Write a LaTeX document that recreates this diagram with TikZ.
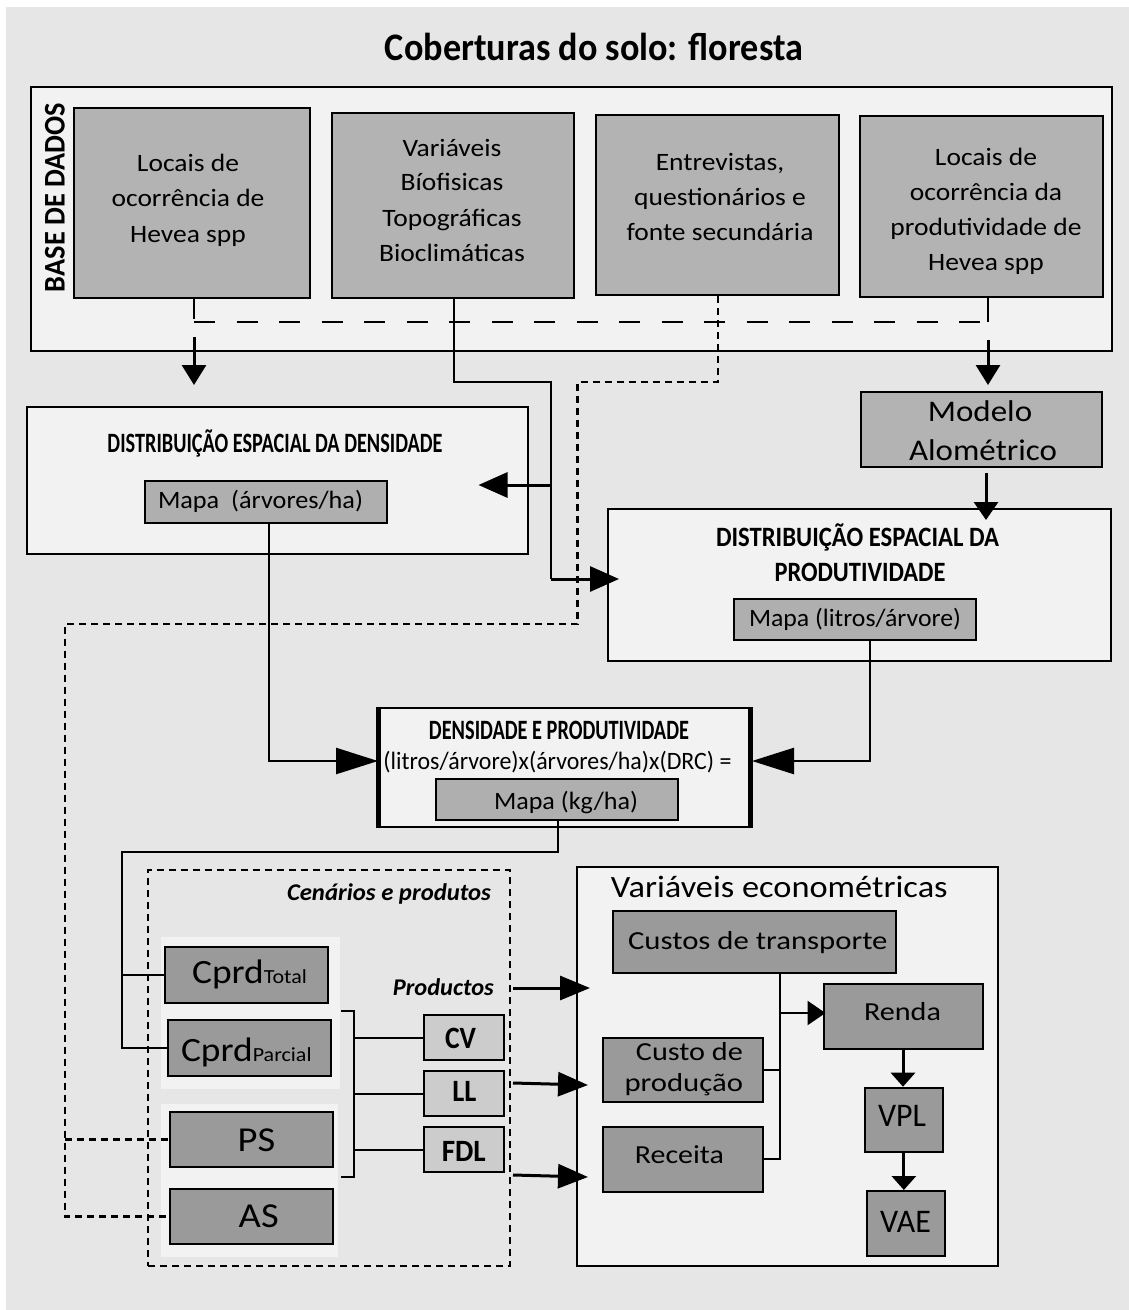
\documentclass[tikz,border=0pt]{standalone}
\usepackage{fontspec}
\setmainfont[FakeStretch=1.1]{Carlito}
\usepackage{graphicx}
\usetikzlibrary{arrows.meta}
\definecolor{bgc}{HTML}{E6E6E6}
\definecolor{lightc}{HTML}{F2F2F2}
\definecolor{greyA}{HTML}{B3B3B3}
\definecolor{greyM}{HTML}{AFAFAF}
\definecolor{greyB}{HTML}{9A9A9A}
\definecolor{greyC}{HTML}{CCCCCC}
\newcommand\fsz[2]{\fontsize{#1}{#2}\selectfont}
\newcommand\fitto[2]{\resizebox{#1}{\height}{#2}}
\tikzset{
  lightbox/.style={draw=black, fill=lightc, line width=2pt, inner sep=0pt},
  topbox/.style={draw=black, fill=greyA, line width=2pt, inner sep=0pt},
  mapbox/.style={draw=black, fill=greyM, line width=2pt, inner sep=0pt},
  darkbox/.style={draw=black, fill=greyB, line width=2pt, inner sep=0pt},
  prodbox/.style={draw=black, fill=greyC, line width=2pt, inner sep=0pt},
  grpbox/.style={fill=lightc, draw=none, inner sep=0pt},
  lbl/.style={inner sep=0pt, anchor=base},
  toptxt/.style={lbl, font=\fsz{25}{30}},
  conn/.style={line width=2pt},
  conn2/.style={line width=2.5pt},
  longdash/.style={line width=2pt, dash pattern=on 21pt off 21.5pt},
  dotl/.style={line width=2.3pt, dash pattern=on 7pt off 5pt},
  arrA/.style={line width=3pt, -{Triangle[length=20pt,width=24pt]}},
  arrB/.style={line width=3pt, -{Triangle[length=29pt,width=25pt]}},
  arrC/.style={line width=2.5pt, -{Triangle[length=42pt,width=26pt]}},
  arrE/.style={line width=3pt, -{Triangle[length=30pt,width=24pt]}},
  arrR/.style={line width=2.5pt, -{Triangle[length=18pt,width=24pt]}},
  arrV/.style={line width=3pt, -{Triangle[length=14pt,width=24pt]}},
}
\begin{document}
\begin{tikzpicture}[x=1pt,y=-1pt]
\useasboundingbox (0,0) rectangle (1129,1310);
\fill[white] (0,0) rectangle (1129,1310);
\fill[bgc] (6,7) rectangle (1129,1310);

% title
\node[lbl] (title) at (594,60) {\fitto{418pt}{\fsz{39}{40}\bfseries Coberturas do solo: floresta}};

% database
\node[lightbox, minimum width=1081pt, minimum height=264pt] (base) at (571.5,219) {};
\node[lbl, rotate=90] (baseT) at (64.7,197.5) {\fitto{189pt}{\fsz{30}{30}\bfseries BASE DE DADOS}};
\node[topbox, minimum width=235.5pt, minimum height=190pt] (b1) at (192,203) {};
\node[topbox, minimum width=242.5pt, minimum height=185pt] (b2) at (453,205.5) {};
\node[topbox, minimum width=243pt, minimum height=180pt] (b3) at (717.5,205) {};
\node[topbox, minimum width=243pt, minimum height=181pt] (b4) at (981.5,206.5) {};
\node[toptxt] (b1a) at (188,171.7) {Locais de};
\node[toptxt] (b1b) at (188,206.7) {ocorrência de};
\node[toptxt] (b1c) at (188,242.7) {Hevea spp};
\node[toptxt] (b2a) at (452,156) {Variáveis};
\node[toptxt] (b2b) at (452,190.7) {Bíofisicas};
\node[toptxt] (b2c) at (452,226) {Topográficas};
\node[toptxt] (b2d) at (452,261) {Bioclimáticas};
\node[toptxt] (b3a) at (720,170) {Entrevistas,};
\node[toptxt] (b3b) at (720,205) {questionários e};
\node[toptxt] (b3c) at (720,240) {fonte secundária};
\node[toptxt] (b4a) at (986,165) {Locais de};
\node[toptxt] (b4b) at (986,200) {ocorrência da};
\node[toptxt] (b4c) at (986,235) {produtividade de};
\node[toptxt] (b4d) at (986,270) {Hevea spp};

% density
\node[lightbox, minimum width=501pt, minimum height=147pt] (dens) at (277.5,480.5) {};
\node[lbl] (densT) at (275,452) {\fitto{335pt}{\fsz{28}{30}\bfseries DISTRIBUIÇÃO ESPACIAL DA DENSIDADE}};
\node[mapbox, minimum width=241.5pt, minimum height=42pt] (densM) at (266,502) {};
\node[lbl] (densMt) at (260.5,508) {\fitto{205pt}{\fsz{25}{30}Mapa\ \ (árvores/ha)}};

% modelo
\node[topbox, minimum width=241pt, minimum height=75pt] (modelo) at (981,429.5) {};
\node[lbl] (modeloA) at (980,421.7) {\fsz{30}{34}Modelo};
\node[lbl] (modeloB) at (983,460) {\fsz{30}{34}Alométrico};

% productivity
\node[lightbox, minimum width=503pt, minimum height=152pt] (prod) at (859.5,585) {};
\node[lbl] (prodT1) at (857.5,546) {\fitto{283pt}{\fsz{28}{30}\bfseries DISTRIBUIÇÃO ESPACIAL DA}};
\node[lbl] (prodT2) at (860,581) {\fitto{171pt}{\fsz{28}{30}\bfseries PRODUTIVIDADE}};
\node[mapbox, minimum width=242pt, minimum height=41pt] (prodM) at (855,619.5) {};
\node[lbl] (prodMt) at (855,626) {\fitto{212pt}{\fsz{25}{30}Mapa (litros/árvore)}};

% density and productivity
\node[lightbox, line width=2.5pt, minimum width=369.6pt, minimum height=119pt] (dp) at (564.8,767.5) {};
\draw[line width=5pt] (dp.north west) -- (dp.south west);
\draw[line width=4pt] (dp.north east) -- (dp.south east);
\node[lbl] (dpT) at (559,739) {\fitto{260pt}{\fsz{28}{30}\bfseries DENSIDADE E PRODUTIVIDADE}};
\node[lbl] (dpF) at (557.5,769) {\fitto{348pt}{\fsz{25}{30}(litros/árvore)x(árvores/ha)x(DRC) =}};
\node[mapbox, minimum width=241.5pt, minimum height=41pt] (dpM) at (556.75,799.5) {};
\node[lbl] (dpMt) at (566,809) {\fitto{144pt}{\fsz{25}{30}Mapa (kg/ha)}};

% scenarios
\node[grpbox, minimum width=179pt, minimum height=152pt] (g1) at (250.5,1013) {};
\node[grpbox, minimum width=177pt, minimum height=153pt] (g2) at (249.5,1180.5) {};
\node[draw, line width=2pt, dash pattern=on 7pt off 5pt, minimum width=362pt, minimum height=396pt, inner sep=0pt] (scen) at (329,1068) {};
\node[lbl] (scenT) at (389,900) {\fitto{204pt}{\fsz{24}{30}\bfseries\itshape Cenários e produtos}};
\node[darkbox, minimum width=162.6pt, minimum height=56pt] (cT) at (246.7,975) {};
\node[lbl] (cTt) at (249.5,983) {\fsz{34}{36}Cprd{\fsz{20}{24}Total}};
\node[darkbox, minimum width=163pt, minimum height=56pt] (cP) at (249.5,1048) {};
\node[lbl] (cPt) at (246.3,1061.7) {\fsz{34}{36}Cprd{\fsz{20}{24}Parcial}};
\node[darkbox, minimum width=163pt, minimum height=55pt] (ps) at (251.5,1139.5) {};
\node[lbl] (pst) at (256.5,1151.7) {\fsz{35}{36}PS};
\node[darkbox, minimum width=163pt, minimum height=55pt] (as) at (251.5,1216.5) {};
\node[lbl] (ast) at (258.7,1227.7) {\fsz{35}{36}AS};
\node[lbl] (prodsT) at (443.3,995) {\fitto{101pt}{\fsz{24}{30}\bfseries\itshape Productos}};
\node[prodbox, minimum width=80pt, minimum height=45pt] (cv) at (463.5,1037.5) {};
\node[lbl] (cvt) at (460.5,1048.3) {\fitto{31pt}{\fsz{31}{32}\bfseries CV}};
\node[prodbox, minimum width=80pt, minimum height=45pt] (ll) at (463.5,1093.5) {};
\node[lbl] (llt) at (464.3,1101.7) {\fitto{24pt}{\fsz{31}{32}\bfseries LL}};
\node[prodbox, minimum width=80pt, minimum height=45pt] (fdl) at (463.5,1149.5) {};
\node[lbl] (fdlt) at (463.8,1161.7) {\fitto{44pt}{\fsz{31}{32}\bfseries FDL}};

% econometric
\node[lightbox, minimum width=421.8pt, minimum height=399.3pt] (econ) at (787.4,1066.35) {};
\node[lbl] (econT) at (779.3,897) {\fitto{336.6pt}{\fsz{31}{34}Variáveis econométricas}};
\node[darkbox, minimum width=283.2pt, minimum height=62.3pt] (custos) at (754.1,941.85) {};
\node[lbl] (custosT) at (757.8,949) {\fitto{259.5pt}{\fsz{26}{30}Custos de transporte}};
\node[darkbox, minimum width=159pt, minimum height=65pt] (renda) at (903,1016.5) {};
\node[lbl] (rendaT) at (902.5,1020.7) {\fitto{77pt}{\fsz{26}{30}Renda}};
\node[darkbox, minimum width=160pt, minimum height=64pt] (custoP) at (683,1070) {};
\node[lbl] (custoPa) at (689.4,1060) {\fitto{107pt}{\fsz{26}{30}Custo de}};
\node[lbl] (custoPb) at (683.8,1091) {\fitto{118.5pt}{\fsz{26}{30}produção}};
\node[darkbox, minimum width=160pt, minimum height=64.7pt] (receita) at (683,1159.35) {};
\node[lbl] (receitaT) at (679.4,1163) {\fitto{89pt}{\fsz{26}{30}Receita}};
\node[darkbox, minimum width=77.7pt, minimum height=64.3pt] (vpl) at (903.85,1119.85) {};
\node[lbl] (vplT) at (902,1126) {\fitto{48pt}{\fsz{33}{34}VPL}};
\node[darkbox, minimum width=77.6pt, minimum height=64.7pt] (vae) at (905.8,1223.35) {};
\node[lbl] (vaeT) at (905.5,1232) {\fitto{50.7pt}{\fsz{33}{34}VAE}};

% ---------- connectors ----------
\coordinate (d1) at (194,322);
\coordinate (d2) at (988,322);
\draw[conn] ([xshift=2pt]b1.south) -- ++(0,20);
\draw[longdash] (d1) -- (d2);
\draw[conn] ([xshift=6.5pt]b4.south) -- (d2);
\coordinate (a1s) at (194,337); \coordinate (a1e) at (194,385);
\draw[arrA] (a1s) -- (a1e);
\coordinate (a2s) at (988,340); \coordinate (a2e) at (988,385);
\draw[arrA] (a2s) -- (a2e);
\coordinate (j1) at (551,382);
\coordinate (j3) at (551,485);
\coordinate (j2) at (551,579);
\coordinate (tP) at (619,579);
\coordinate (tD) at (478.5,485);
\draw[conn2] ([xshift=1pt]b2.south) |- (j1) -- (j2);
\draw[arrB] (j2) -- (tP);
\draw[arrB] (j3) -- (tD);
\coordinate (e1) at (577.6,382);
\coordinate (e2) at (64.7,624);
\coordinate (e3) at (64.7,1139.5);
\draw[dotl] ([xshift=0.5pt]b3.south) |- (e1) |- (e2) |- (as.west);
\draw[dotl] (e3) -- (ps.west);
\coordinate (m1) at (986,473); \coordinate (m2) at (986,520);
\draw[line width=3pt, -{Triangle[length=18pt,width=24pt]}] (m1) -- (m2);
\coordinate (k1) at (269,523); \coordinate (k2) at (378,761);
\draw[arrC] (k1) |- (k2);
\coordinate (k3) at (870,640); \coordinate (k4) at (752,761);
\draw[arrC] (k3) |- (k4);
\coordinate (c1) at (558,820);
\coordinate (c2) at (122,852);
\coordinate (c3) at (122,975);
\draw[conn] (c1) |- (c2) |- (cP.west);
\draw[conn] (c3) -- (cT.west);
\coordinate (r1) at (341,1011); \coordinate (r2) at (354,1177); \coordinate (r3) at (341,1177);
\draw[conn] (r1) -| (r2) -- (r3);
\draw[conn] (cv.west -| r2) -- (cv.west);
\draw[conn] (ll.west -| r2) -- (ll.west);
\draw[conn] (fdl.west -| r2) -- (fdl.west);
\coordinate (s1) at (513,988); \coordinate (s1e) at (590,988);
\coordinate (s2) at (513,1083); \coordinate (s2e) at (588,1085);
\coordinate (s3) at (513,1175); \coordinate (s3e) at (588,1177);
\draw[arrE] (s1) -- (s1e);
\draw[arrE] (s2) -- (s2e);
\draw[arrE] (s3) -- (s3e);
\coordinate (u1) at (780,973);
\coordinate (u2) at (780,1013);
\coordinate (u3) at (780,1070);
\draw[conn] (u1) |- (receita.east);
\draw[conn] (custoP.east) -- (u3);
\draw[arrR] (u2) -- ([xshift=3pt]renda.west |- u2);
\draw[arrV] (renda.south) -- (renda.south |- vpl.north);
\draw[arrV] (vpl.south) -- (vpl.south |- vae.north);
\end{tikzpicture}
\end{document}
